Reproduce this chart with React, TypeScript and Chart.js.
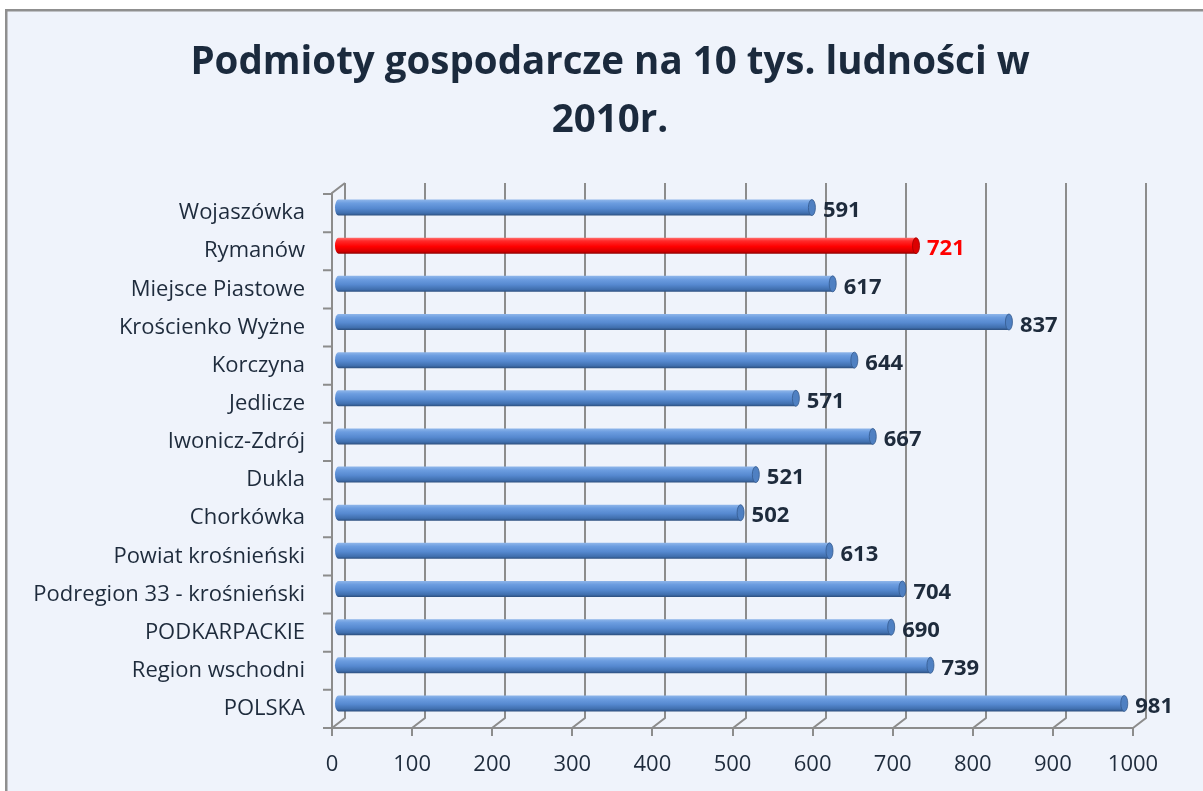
import React, { useEffect, useRef } from 'react';
import { Chart, registerables } from 'chart.js';

Chart.register(...registerables);

const titleLines = ['Podmioty gospodarcze na 10 tys. ludności w', '2010r.'];
const categories = [
  'Wojaszówka',
  'Rymanów',
  'Miejsce Piastowe',
  'Krościenko Wyżne',
  'Korczyna',
  'Jedlicze',
  'Iwonicz-Zdrój',
  'Dukla',
  'Chorkówka',
  'Powiat krośnieński',
  'Podregion 33 - krośnieński',
  'PODKARPACKIE',
  'Region wschodni',
  'POLSKA',
];
const values = [591, 721, 617, 837, 644, 571, 667, 521, 502, 613, 704, 690, 739, 981];
const highlighted = ['Rymanów'];
const xTicks = [0, 100, 200, 300, 400, 500, 600, 700, 800, 900, 1000];

const DEPTH_X = 13;
const DEPTH_Y = -10;
const GRID = '#8c8c8c';
const TEXT = '#1e2b3c';
const BG = '#eff3fb';

const framePlugin = {
  id: 'frame',
  afterLayout(chart: any) {
    // centre the title over the whole frame (as in the source chart)
    if (chart.titleBlock) chart.titleBlock.left = 87;
  },
  beforeDraw(chart: any) {
    const { ctx, width, height } = chart;
    ctx.save();
    ctx.fillStyle = '#ffffff';
    ctx.fillRect(0, 0, width, height);
    ctx.fillStyle = BG;
    ctx.fillRect(6, 9, width - 6, height - 9);
    ctx.strokeStyle = '#8f8f8f';
    ctx.lineWidth = 2.5;
    ctx.beginPath();
    ctx.moveTo(6.25, height);
    ctx.lineTo(6.25, 10.25);
    ctx.lineTo(width, 10.25);
    ctx.stroke();
    ctx.restore();
  },
};

const axes3dPlugin = {
  id: 'axes3d',
  beforeDatasetsDraw(chart: any) {
    const { ctx, chartArea: a, scales } = chart;
    const xs = scales.x;
    const ys = scales.y;
    ctx.save();
    ctx.strokeStyle = GRID;
    ctx.lineWidth = 2;
    ctx.lineCap = 'butt';
    ctx.beginPath();
    xTicks.forEach((v) => {
      const fx = Math.round(xs.getPixelForValue(v));
      const bx = fx + DEPTH_X;
      ctx.moveTo(bx, a.top + DEPTH_Y - 1);
      ctx.lineTo(bx, a.bottom + DEPTH_Y);
      ctx.lineTo(fx, a.bottom);
      ctx.moveTo(fx, a.bottom);
      ctx.lineTo(fx, a.bottom + 8);
    });
    ctx.moveTo(a.left - 9, a.bottom);
    ctx.lineTo(xs.getPixelForValue(xTicks[xTicks.length - 1]), a.bottom);
    ctx.moveTo(a.left, a.bottom);
    ctx.lineTo(a.left, a.top - 1);
    ctx.lineTo(a.left + DEPTH_X, a.top + DEPTH_Y - 1);
    const n = categories.length;
    for (let i = 0; i < n; i++) {
      const y = i === 0 ? a.top : (ys.getPixelForValue(i - 1) + ys.getPixelForValue(i)) / 2;
      ctx.moveTo(a.left - 9, y);
      ctx.lineTo(a.left, y);
    }
    ctx.stroke();
    ctx.restore();
  },
};

function barGradient(ctx: CanvasRenderingContext2D, top: number, h: number, red: boolean) {
  const g = ctx.createLinearGradient(0, top, 0, top + h);
  if (red) {
    g.addColorStop(0, '#ff7070');
    g.addColorStop(0.2, '#ff2a2a');
    g.addColorStop(0.55, '#ff0000');
    g.addColorStop(0.85, '#d40000');
    g.addColorStop(1, '#8f0000');
  } else {
    g.addColorStop(0, '#8fb6ea');
    g.addColorStop(0.22, '#6c9de0');
    g.addColorStop(0.55, '#5689d0');
    g.addColorStop(0.85, '#406fae');
    g.addColorStop(1, '#2c4e7d');
  }
  return g;
}

const cylinderPlugin = {
  id: 'cylinders',
  afterDatasetsDraw(chart: any) {
    const { ctx } = chart;
    const meta = chart.getDatasetMeta(0);
    ctx.save();
    ctx.translate(DEPTH_X / 2, DEPTH_Y / 2 - 0.5);
    meta.data.forEach((el: any, i: number) => {
      const red = highlighted.includes(categories[i]);
      const { x, y, base, height: h } = el.getProps(['x', 'y', 'base', 'height'], true);
      const top = y - h / 2;
      const rx = 3.5;
      ctx.fillStyle = barGradient(ctx, top, h, red);
      ctx.beginPath();
      ctx.ellipse(base, y, rx, h / 2, 0, Math.PI / 2, (3 * Math.PI) / 2);
      ctx.lineTo(x, top);
      ctx.lineTo(x, top + h);
      ctx.closePath();
      ctx.fill();
      ctx.beginPath();
      ctx.ellipse(x, y, rx, h / 2, 0, 0, Math.PI * 2);
      ctx.fillStyle = red ? '#dc0000' : '#4f80c2';
      ctx.fill();
      ctx.lineWidth = 0.8;
      ctx.strokeStyle = red ? '#a00000' : '#355a8e';
      ctx.stroke();
    });
    ctx.restore();

    ctx.save();
    ctx.textBaseline = 'middle';
    ctx.textAlign = 'left';
    meta.data.forEach((el: any, i: number) => {
      const red = highlighted.includes(categories[i]);
      const { x } = el.getProps(['x'], true);
      const cy = chart.scales.y.getPixelForValue(i) - 2;
      ctx.font = 'bold 22px "Open Sans"';
      ctx.fillStyle = red ? '#ff0000' : TEXT;
      ctx.fillText(String(values[i]), x + DEPTH_X / 2 + 11, cy);
    });
    ctx.restore();
  },
};

export default function App() {
  const ref = useRef<HTMLCanvasElement | null>(null);
  useEffect(() => {
    if (!ref.current) return;
    const chart = new Chart(ref.current, {
      type: 'bar',
      data: {
        labels: categories,
        datasets: [
          {
            data: values,
            backgroundColor: 'rgba(0,0,0,0)',
            borderWidth: 0,
            barThickness: 16,
          },
        ],
      },
      options: {
        indexAxis: 'y',
        responsive: false,
        animation: false,
        devicePixelRatio: 1,
        layout: { padding: { left: 0, right: 70, top: 0, bottom: 0 } },
        plugins: {
          legend: { display: false },
          tooltip: { enabled: false },
          title: {
            display: true,
            text: titleLines,
            color: '#1b2a3d',
            font: { family: '"Open Sans"', size: 38.5, weight: 'bold', lineHeight: 1.5 },
            padding: { top: 34, bottom: 44.5 },
          },
        },
        scales: {
          x: {
            type: 'linear',
            min: 0,
            max: 1000,
            grid: { display: false, drawTicks: false },
            border: { display: false },
            afterBuildTicks: (scale: any) => {
              scale.ticks = xTicks.map((v) => ({ value: v }));
            },
            afterFit: (scale: any) => {
              scale.height = 63;
            },
            ticks: {
              color: TEXT,
              padding: 24,
              maxRotation: 0,
              autoSkip: false,
              callback: (v: any) => String(v),
              font: { family: '"Open Sans"', size: 22 },
            },
          },
          y: {
            type: 'category',
            offset: true,
            grid: { display: false, drawTicks: false },
            border: { display: false },
            afterFit: (scale: any) => {
              scale.width = 332;
            },
            ticks: {
              color: TEXT,
              padding: 27,
              autoSkip: false,
              font: { family: '"Open Sans"', size: 22 },
            },
          },
        },
      },
      plugins: [framePlugin, axes3dPlugin, cylinderPlugin],
    } as any);
    return () => chart.destroy();
  }, []);

  return (
    <div style={{ position: 'fixed', left: 0, top: 0, width: 1203, height: 791, background: '#fff' }}>
      <canvas ref={ref} width={1203} height={791} style={{ display: 'block' }} />
    </div>
  );
}
